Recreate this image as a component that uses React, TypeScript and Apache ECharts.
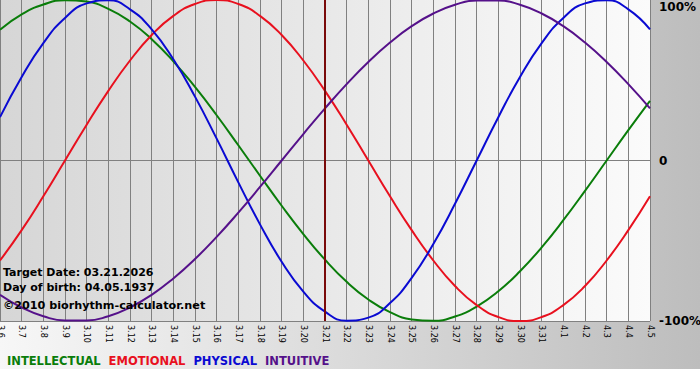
import React, { useEffect, useRef } from "react";
import * as echarts from "echarts";

const dates = [
  "3.6", "3.7", "3.8", "3.9", "3.10", "3.11", "3.12", "3.13", "3.14", "3.15",
  "3.16", "3.17", "3.18", "3.19", "3.20", "3.21", "3.22", "3.23", "3.24", "3.25",
  "3.26", "3.27", "3.28", "3.29", "3.30", "3.31", "4.1", "4.2", "4.3", "4.4", "4.5",
];

const intellectual = [
  0.815, 0.91, 0.972, 0.999, 0.99, 0.945, 0.866, 0.756, 0.618, 0.458,
  0.282, 0.095, -0.095, -0.282, -0.458, -0.618, -0.756, -0.866, -0.945, -0.99,
  -0.999, -0.972, -0.91, -0.815, -0.69, -0.541, -0.372, -0.189, 0.0, 0.189, 0.372,
];
const emotional = [
  -0.623, -0.434, -0.223, 0.0, 0.223, 0.434, 0.623, 0.782, 0.901, 0.975,
  1.0, 0.975, 0.901, 0.782, 0.623, 0.434, 0.223, 0.0, -0.223, -0.434,
  -0.623, -0.782, -0.901, -0.975, -1.0, -0.975, -0.901, -0.782, -0.623, -0.434, -0.223,
];
const physical = [
  0.27, 0.52, 0.731, 0.888, 0.979, 0.998, 0.942, 0.817, 0.631, 0.398,
  0.136, -0.136, -0.398, -0.631, -0.817, -0.942, -0.998, -0.979, -0.888, -0.731,
  -0.52, -0.27, 0.0, 0.27, 0.52, 0.731, 0.888, 0.979, 0.998, 0.942, 0.817,
];
const intuitive = [
  -0.837, -0.916, -0.97, -0.997, -0.997, -0.97, -0.916, -0.837, -0.735, -0.614,
  -0.476, -0.325, -0.165, 0.0, 0.165, 0.325, 0.476, 0.614, 0.735, 0.837,
  0.916, 0.97, 0.997, 0.997, 0.97, 0.916, 0.837, 0.735, 0.614, 0.476, 0.325,
];

const seriesNames = ["INTELLECTUAL", "EMOTIONAL", "PHYSICAL", "INTUITIVE"];
const seriesColors = ["#0a7d0a", "#e8101e", "#0a0ad2", "#55118a"];
const yTickLabels = ["-100%", "0", "100%"];
const targetDate = "3.21";
const infoLines = [
  "Target Date: 03.21.2026",
  "Day of birth: 04.05.1937",
  "©2010 biorhythm-calculator.net",
];

export default function App() {
  const ref = useRef<HTMLDivElement>(null);

  useEffect(() => {
    if (!ref.current) return;
    const chart = echarts.init(ref.current, undefined, { renderer: "svg" });
    const dataSets = [intellectual, emotional, physical, intuitive];
    const font = "'DejaVu Sans', Verdana, sans-serif";

    const series: any[] = dataSets.map((d, i) => ({
      name: seriesNames[i],
      type: "line",
      data: d,
      smooth: 0.5,
      showSymbol: false,
      lineStyle: { color: seriesColors[i], width: 2 },
      itemStyle: { color: seriesColors[i] },
      z: 3,
    }));
    series[0].markLine = {
      silent: true,
      symbol: "none",
      label: { show: false },
      lineStyle: { color: "#7a0a0a", width: 2, type: "solid" },
      data: [{ xAxis: targetDate }],
    };

    chart.setOption({
      animation: false,
      backgroundColor: "transparent",
      textStyle: { fontFamily: font },
      grid: {
        left: 0,
        right: 50,
        top: 0,
        bottom: 59,
        containLabel: false,
        outerBoundsMode: "none",
        show: true,
        borderWidth: 0,
        backgroundColor: new echarts.graphic.LinearGradient(0, 0, 1, 0, [
          { offset: 0, color: "#d6d6d6" },
          { offset: 1, color: "#fbfbfb" },
        ]),
      },
      legend: {
        left: 2,
        top: 355,
        padding: 0,
        icon: "none",
        itemWidth: 0,
        itemHeight: 10,
        itemGap: 3,
        selectedMode: false,
        textStyle: { fontFamily: font, fontWeight: "bold", fontSize: 11.5 },
        data: seriesNames.map((n, i) => ({
          name: n,
          textStyle: { color: seriesColors[i] },
        })),
      },
      xAxis: {
        type: "category",
        boundaryGap: false,
        data: dates,
        axisLine: { show: true, lineStyle: { color: "#808080", width: 1 } },
        axisTick: { show: true, length: 2, interval: 0, lineStyle: { color: "#808080" } },
        splitLine: { show: true, interval: 0, lineStyle: { color: "#808080", width: 1 } },
        axisLabel: {
          interval: 0,
          rotate: -90,
          fontSize: 8,
          color: "#000",
          margin: 4,
          fontFamily: font,
        },
      },
      yAxis: {
        type: "value",
        position: "right",
        min: -1,
        max: 1,
        interval: 1,
        axisLine: { show: false },
        axisTick: { show: false },
        splitLine: {
          show: true,
          lineStyle: { color: ["#808080", "#808080", "rgba(0,0,0,0)"], width: 1 },
        },
        axisLabel: {
          margin: 9,
          color: "#000",
          fontWeight: "bold",
          fontSize: 12,
          fontFamily: font,
          formatter: (v: number) => {
            const idx = Math.round(v) + 1;
            const t = yTickLabels[idx];
            return idx === 2 ? "{top|" + t + "}" : t;
          },
          rich: {
            top: {
              padding: [13, 0, 0, 0],
              fontWeight: "bold",
              fontSize: 12,
              fontFamily: font,
              color: "#000",
            },
          },
        },
      },
      graphic: infoLines.map((t, i) => ({
        type: "text",
        left: 3,
        top: [267, 282, 300][i],
        z: 10,
        style: {
          text: t,
          fill: "#000",
          font: "bold " + (i === 2 ? "11.2px " : "11px ") + font,
        },
      })),
      series,
    });

    return () => chart.dispose();
  }, []);

  return (
    <div
      ref={ref}
      style={{
        position: "fixed",
        left: 0,
        top: 0,
        width: 700,
        height: 380,
        background:
          "linear-gradient(to right, #f7f7f7, #bdbdbd) 0 0 / 100% 369px no-repeat, #ffffff",
      }}
    />
  );
}
